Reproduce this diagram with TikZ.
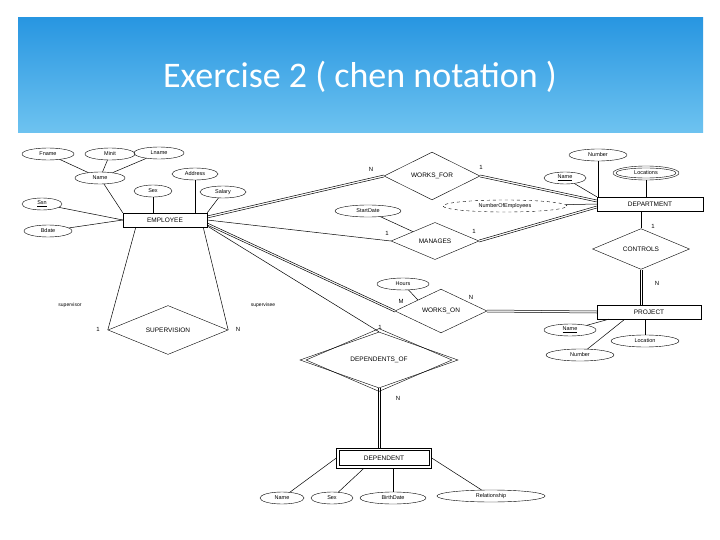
\documentclass[tikz,border=0pt]{standalone}
\usepackage{fontspec}
\setmainfont{Liberation Sans}
\newfontfamily\titlefont{Carlito}
\usetikzlibrary{shapes.geometric}
\begin{document}
\begin{tikzpicture}[x=1pt,y=1pt,
  attr/.style={ellipse,draw,inner sep=0pt,minimum height=12pt,font=\fontsize{5.5}{6}\selectfont},
  ent/.style={rectangle,draw,inner sep=0pt,minimum height=14pt,minimum width=96pt,font=\fontsize{6.5}{7}\selectfont},
  rel/.style={diamond,draw,inner sep=0pt,font=\fontsize{6.5}{7}\selectfont},
  lbl/.style={font=\fontsize{6}{7}\selectfont,inner sep=1pt},
  ln/.style={line width=0.5pt},
  hd/.style={ln,transform canvas={yshift=1pt}},
  hu/.style={ln,transform canvas={yshift=-1pt}},
  vl/.style={ln,transform canvas={xshift=1pt}},
  vr/.style={ln,transform canvas={xshift=-1pt}}]
\useasboundingbox (0,0) rectangle (720,-540);
\fill[white] (0,0) rectangle (720,-540);
\shade[top color={rgb,255:red,40;green,150;blue,225},bottom color={rgb,255:red,110;green,195;blue,240}] (18,-18) rectangle (703,-133);
\node[text=white,font=\titlefont\fontsize{36}{40}\selectfont] (title) at (360,-77) {Exercise 2 ( chen notation )};
% entities
\node[ent,minimum width=84pt] (emp) at (165,-220) {EMPLOYEE};
\node[ent,minimum width=106pt] (dep) at (650,-204) {DEPARTMENT};
\node[ent,minimum width=104pt] (proj) at (649,-312) {PROJECT};
\node[ent,minimum width=95pt,minimum height=20pt] (dpd) at (384,-458) {};
\node[ent,minimum width=90pt,minimum height=15pt] (dpdi) at (384,-458) {DEPENDENT};
% relationships
\node[rel,minimum width=96pt,minimum height=37pt] (wf) at (432,-176) {WORKS\_FOR};
\node[rel,minimum width=88pt,minimum height=32pt] (man) at (435,-241) {MANAGES};
\node[rel,minimum width=97pt,minimum height=34pt] (ctl) at (641,-249) {CONTROLS};
\node[rel,minimum width=92pt,minimum height=37pt] (won) at (441,-311) {WORKS\_ON};
\node[rel,minimum width=158pt,minimum height=56pt] (dof) at (379,-360) {};
\node[rel,minimum width=146pt,minimum height=48pt] (dofi) at (379,-360) {DEPENDENTS\_OF};
\node[rel,minimum width=120pt,minimum height=45pt] (sup) at (168,-330) {SUPERVISION};
% employee attributes
\node[attr,minimum width=52pt] (fname) at (48,-154) {Fname};
\node[attr,minimum width=50pt] (minit) at (110,-154) {Minit};
\node[attr,minimum width=50pt] (lname) at (159,-153) {Lname};
\node[attr,minimum width=50pt] (ename) at (100,-178) {Name};
\node[attr,minimum width=46pt] (addr) at (195,-174) {Address};
\node[attr,minimum width=38pt] (esex) at (153,-191) {Sex};
\node[attr,minimum width=46pt] (sal) at (223,-192) {Salary};
\node[attr,minimum width=40pt] (ssn) at (42,-204) {\underline{Ssn}};
\node[attr,minimum width=48pt] (bd) at (48,-231) {Bdate};
% department attributes
\node[attr,minimum width=58pt] (dnum) at (598,-155) {Number};
\node[attr,minimum width=42pt] (dname) at (565,-178) {\underline{Name}};
\node[attr,minimum width=66pt,minimum height=14pt] (loc) at (646,-173) {};
\node[attr,minimum width=60pt,minimum height=10pt] (loci) at (646,-173) {Locations};
\node[attr,dashed,minimum width=124pt] (noe) at (505,-206) {NumberOfEmployees};
\node[attr,minimum width=66pt] (sd) at (368,-211) {StartDate};
% project attributes
\node[attr,minimum width=52pt] (hrs) at (403,-284) {Hours};
\node[attr,minimum width=52pt] (pname) at (570,-330) {\underline{Name}};
\node[attr,minimum width=68pt] (ploc) at (645,-341) {Location};
\node[attr,minimum width=68pt] (pnum) at (580,-355) {Number};
% dependent attributes
\node[attr,minimum width=44pt] (dn) at (282,-498) {Name};
\node[attr,minimum width=42pt] (ds) at (332,-498) {Sex};
\node[attr,minimum width=66pt] (dbd) at (393,-498) {BirthDate};
\node[attr,minimum width=108pt] (rel) at (491,-496) {Relationship};
% attribute lines
\draw[ln] (fname) -- (ename); \draw[ln] (minit) -- (ename); \draw[ln] (lname) -- (ename);
\draw[ln] (ename) -- (emp.north west);
\draw[ln] (esex) -- (esex|-emp.north);
\draw[ln] (addr) -- (addr|-emp.north);
\draw[ln] (sal) -- (emp.north east);
\draw[ln] (ssn) -- (emp.west);
\draw[ln] (bd) -- (emp.west);
\draw[ln] (dnum) -- (dnum|-dep.north);
\draw[ln] (dname) -- (dep.north west);
\draw[ln] (loc) -- (loc|-dep.north);
\draw[ln] (noe) -- (dep.west);
\draw[ln] (sd) -- (man.north west);
\draw[ln] (hrs) -- (won.north west);
\draw[ln] (pname) -- ([xshift=12pt]proj.south west);
\draw[ln] (pnum) -- ([xshift=28pt]proj.south west);
\draw[ln] (ploc) -- (ploc|-proj.south);
\draw[ln] (dn) -- (dpd.west);
\draw[ln] (ds) -- ([xshift=-20pt]dpd.south);
\draw[ln] (dbd) -- (dbd|-dpd.south);
\draw[ln] (rel) -- (dpd.east);
% relationship lines (double = two parallel lines)
\foreach \s in {hd,hu}{
  \draw[\s] ([yshift=3pt]emp.east) -- (wf.west);
  \draw[\s] (wf.east) -- ([yshift=3pt]dep.west);
  \draw[\s] (man.east) -- ([yshift=-3pt]dep.west);
  \draw[\s] ([yshift=-4pt]emp.east) -- (won.west);
  \draw[\s] (won.east) -- (proj.west);
}
\foreach \s in {vl,vr}{
  \draw[\s] (ctl.south) -- (ctl.south|-proj.north);
  \draw[\s] (dof.south) -- (dof.south|-dpd.north);
}
\draw[ln] (emp.east) -- (man.west);
\draw[ln] (dep.south-|ctl.north) -- (ctl.north);
\draw[ln] ([yshift=-6pt]emp.east) -- (dof.north);
\draw[ln] ([xshift=13pt]emp.south west) -- (sup.west);
\draw[ln] ([xshift=-4pt]emp.south east) -- (sup.east);
% labels
\node[lbl] (l1) at (371,-169) {N};
\node[lbl] (l2) at (481,-167) {1};
\node[lbl] (l3) at (387,-233) {1};
\node[lbl] (l4) at (474,-231) {1};
\node[lbl] (l5) at (653,-226) {1};
\node[lbl] (l6) at (657,-283) {N};
\node[lbl] (l7) at (401,-301) {M};
\node[lbl] (l8) at (471,-297) {N};
\node[lbl] (l9) at (380,-327) {1};
\node[lbl] (l10) at (398,-398) {N};
\node[lbl] (l11) at (98,-329) {1};
\node[lbl] (l12) at (238,-329) {N};
\node[lbl,font=\fontsize{5}{6}\selectfont] (l13) at (70,-305) {supervisor};
\node[lbl,font=\fontsize{5}{6}\selectfont] (l14) at (263,-305) {supervisee};
\end{tikzpicture}
\end{document}
